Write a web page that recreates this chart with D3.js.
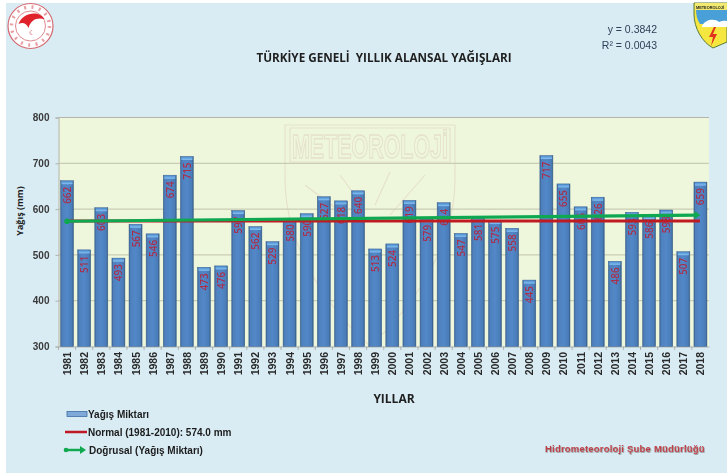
<!DOCTYPE html>
<html><head><meta charset="utf-8">
<script src="https://cdn.jsdelivr.net/npm/d3@7"></script>
<style>html,body{margin:0;padding:0;background:#fff}svg{display:block}</style>
</head><body><svg id="c" width="727" height="473"></svg>
<script>
const years = d3.range(1981, 2019).map(String);
const rainfall = [662,511,603,493,567,546,674,715,473,476,597,562,529,580,590,627,618,640,513,524,619,579,614,547,581,575,558,445,717,655,605,626,486,593,586,598,507,659];
const normalValue = [574, 574];
const trendValues = [573.5, 587];
const yTicks = [300,400,500,600,700,800];
const legendLabels = ["Yağış Miktarı","Normal (1981-2010): 574.0 mm","Doğrusal (Yağış Miktarı)"];
const titleText = "TÜRKİYE GENELİ  YILLIK ALANSAL YAĞIŞLARI";

const svg = d3.select("#c");
const defs = svg.append("defs");
const barG = defs.append("linearGradient").attr("id","bar");
[[0,"#3a6291"],[.12,"#4f80bd"],[.5,"#5288c8"],[.88,"#4a7cb8"],[1,"#34587f"]].forEach(s=>barG.append("stop").attr("offset",s[0]).attr("stop-color",s[1]));
const capG = defs.append("linearGradient").attr("id","cap").attr("x2",0).attr("y2",1);
[[0,"#4f8ed0"],[1,"#86c2f2"]].forEach(s=>capG.append("stop").attr("offset",s[0]).attr("stop-color",s[1]));
defs.append("filter").attr("id","soft").append("feGaussianBlur").attr("stdDeviation",0.3);
const shadow = defs.append("filter").attr("id","sh");
shadow.append("feDropShadow").attr("dx",0.6).attr("dy",0.8).attr("stdDeviation",0.4).attr("flood-color","#888");

svg.append("rect").attr("x",6).attr("y",3).attr("width",721).attr("height",470).attr("fill","#d9ecf4");

const x = d3.scaleBand().domain(years).range([58.5,709]).paddingInner(0.24).paddingOuter(0.12);
const y = d3.scaleLinear().domain([300,800]).range([346.5,117.5]);
const g = svg.append("g").attr("filter","url(#soft)");

g.append("rect").attr("x",58.5).attr("y",117.5).attr("width",650.5).attr("height",229).attr("fill","#eef6dc");

// faint watermark
const wm = g.append("g").attr("fill","none").attr("stroke","#e6e1ca").attr("stroke-width",1.1);
wm.append("path").attr("d","M285 125H455V178C455 250 410 310 370 346C330 310 285 250 285 178Z");
wm.append("path").attr("d","M290 128H450V162H290Z");
const rays=[[345,215,305,185],[362,205,340,175],[375,205,390,172],[390,215,425,175]];
wm.selectAll("line.r").data(rays).join("line").attr("x1",d=>d[0]).attr("y1",d=>d[1]).attr("x2",d=>d[2]).attr("y2",d=>d[3]);
wm.append("text").attr("transform","translate(292,158) scale(1,2.2)").attr("font-family","Liberation Sans").attr("font-size",15).attr("font-weight","bold").attr("textLength",156).attr("lengthAdjust","spacingAndGlyphs").attr("stroke-width",0.6).text("METEOROLOJİ");

// grid and axes
g.append("g").selectAll("line").data(yTicks.slice(1)).join("line")
  .attr("x1",58.5).attr("x2",709).attr("y1",d=>y(d)).attr("y2",d=>y(d)).attr("stroke",d=>d===800?"#b3b5ad":"#c0c3aa").attr("stroke-width",1);

const axL = g.append("g").attr("transform","translate(58.5,0)").call(d3.axisLeft(y).tickValues(yTicks).tickSize(3).tickPadding(6));
const axB = g.append("g").attr("transform","translate(0,346.5)").call(d3.axisBottom(x).tickSize(0).tickPadding(0));
[axL,axB].forEach(a=>{a.selectAll("path").attr("stroke","#aeb2ac");a.selectAll(".tick line").attr("stroke","#aeb2ac");});
axL.selectAll("text").attr("font-family","Liberation Sans").attr("font-size",10).attr("font-weight","bold").attr("fill","#3a3a3a");
axB.selectAll("text").attr("font-family","Liberation Sans").attr("font-size",10.5).attr("font-weight","bold").attr("fill","#2a2a2a")
  .attr("text-anchor","end").attr("dy",null).attr("dominant-baseline","central")
  .attr("transform","translate(0,5.5) rotate(-90)");
// separators between categories
g.append("g").selectAll("line").data(years).join("line")
  .attr("x1",d=>x(d)-x.step()*0.12).attr("x2",d=>x(d)-x.step()*0.12).attr("y1",346.5).attr("y2",350).attr("stroke","#aeb2ac");

// bars
const bars = g.append("g").selectAll("g").data(rainfall).join("g");
bars.append("rect").attr("x",(d,i)=>x(years[i])).attr("width",x.bandwidth()).attr("y",d=>y(d)).attr("height",d=>y(300)-y(d)).attr("fill","url(#bar)").attr("stroke","#3e648f").attr("stroke-width",0.5);
bars.append("rect").attr("x",(d,i)=>x(years[i])+1).attr("width",x.bandwidth()-2).attr("y",d=>y(d)+0.5).attr("height",3).attr("fill","url(#cap)");

// value labels
g.append("g").selectAll("text").data(rainfall).join("text")
  .attr("transform",(d,i)=>`translate(${x(years[i])+x.bandwidth()/2},${y(d)+6}) rotate(-90)`)
  .attr("text-anchor","end").attr("dominant-baseline","central")
  .attr("font-family","Open Sans").attr("font-size",10).attr("font-weight",600).attr("fill","#a92f4c").text(d=>d);

// normal and trend
const line = d3.line().x(d=>d[0]).y(d=>y(d[1]));
const x0 = x("1981")+x.bandwidth()/2;
const xN = x("2018")+x.bandwidth()/2;
g.append("path").attr("d",line([[x0,normalValue[0]],[xN-0.5,normalValue[1]]])).attr("stroke","#bf1a24").attr("stroke-width",3.2).attr("fill","none");
g.append("path").attr("d",line([[x0,trendValues[0]],[xN-3,trendValues[1]]])).attr("stroke","#10a850").attr("stroke-width",3.2).attr("fill","none");
g.append("circle").attr("cx",x0).attr("cy",y(trendValues[0])).attr("r",2.8).attr("fill","#10a850");
const arrow = p=>`M${p[0]} ${p[1]-4}L${p[0]+6} ${p[1]}L${p[0]} ${p[1]+4}Z`;
g.append("path").attr("d",arrow([xN-6,y(trendValues[1])])).attr("fill","#10a850");

// titles
const t = (px,py,s,size,extra={})=>{const e=svg.append("text").attr("x",px).attr("y",py).attr("font-family","Open Sans").attr("font-size",size).attr("font-weight","bold").attr("fill","#1f1f1f").attr("text-anchor","middle").text(s);Object.entries(extra).forEach(([k,v])=>e.attr(k,v));return e;};
t(384,62,titleText,11.7,{"xml:space":"preserve"});
t(394,403,"YILLAR",12);
t(0,0,"Yağış (mm)",9,{transform:"translate(22.5,211) rotate(-90)"});

// legend
const ly=[414,432,450];
const lg = svg.append("g").attr("font-family","Liberation Sans").attr("font-size",10).attr("font-weight","bold").attr("fill","#1c1c1c");
lg.selectAll("text").data(legendLabels).join("text").attr("x",(d,i)=>i==2?89:88).attr("y",(d,i)=>ly[i]+3.5).text(d=>d);
lg.append("rect").attr("x",67).attr("y",ly[0]-2.5).attr("width",20).attr("height",5).attr("fill","#7fa9d8").attr("stroke","#3f6fa5").attr("stroke-width",0.8);
lg.append("line").attr("x1",65).attr("x2",87).attr("y1",ly[1]).attr("y2",ly[1]).attr("stroke","#bf1a24").attr("stroke-width",2.5);
lg.append("line").attr("x1",65).attr("x2",81).attr("y1",ly[2]).attr("y2",ly[2]).attr("stroke","#10a850").attr("stroke-width",2.5);
lg.append("circle").attr("cx",66).attr("cy",ly[2]).attr("r",2.3).attr("fill","#10a850");
lg.append("path").attr("d",arrow([80,ly[2]])).attr("fill","#10a850");

// regression text
const rg = svg.append("g").attr("font-family","Liberation Sans").attr("font-size",10.5).attr("fill","#2f4058");
rg.append("text").attr("x",657).attr("y",33).attr("text-anchor","end").text("y = 0.3842");
rg.append("text").attr("x",657).attr("y",49).attr("text-anchor","end").text("R² = 0.0043");

// footer
svg.append("text").attr("x",545).attr("y",452).attr("font-family","Liberation Sans").attr("font-size",9.5).attr("font-weight","bold").attr("letter-spacing",0.2).attr("fill","#c0404a").attr("filter","url(#sh)").text("Hidrometeoroloji Şube Müdürlüğü");

// left emblem
const em = svg.append("g").attr("transform","translate(30.5,26)").attr("filter","url(#soft)");
em.append("circle").attr("r",22.5).attr("fill","#fff").attr("stroke","#d56a72").attr("stroke-width",1.2);
em.append("circle").attr("r",15).attr("fill","#fff").attr("stroke","#e08a90").attr("stroke-width",1);
em.append("circle").attr("r",19).attr("fill","none").attr("stroke","#e8a0a5").attr("stroke-width",3.5).attr("stroke-dasharray","2 5.5");
em.append("path").attr("d","M-12 -2C-8 -14 9 -16 14 -7C6 -9 0 -6 -2 2C-4 -3 -8 -4 -12 -2Z").attr("fill","#e0202a");
em.append("text").attr("x",1).attr("y",9).attr("font-size",7).attr("fill","#c8323c").attr("text-anchor","middle").attr("font-family","Liberation Sans").text("☾");

// right shield
const sh = svg.append("g").attr("filter","url(#soft)");
sh.append("path").attr("d","M694 3H727V42L713 48C702 42 694 28 694 14Z").attr("fill","#f5e640").attr("stroke","#5a7a3a").attr("stroke-width",1);
sh.append("path").attr("d","M696 9H727V24H700C697 20 696 15 696 9Z").attr("fill","#4aa0d8");
sh.append("path").attr("d","M702 26C706 18 716 19 719 22C723 20 727 21 727 21V27H702Z").attr("fill","#fff");
sh.append("path").attr("d","M714 27L709 37L713 37L711 46L717 34L713 34L716 27Z").attr("fill","#e0301e");
sh.append("rect").attr("x",695).attr("y",3).attr("width",32).attr("height",7).attr("fill","#f2ea70");
svg.append("text").attr("x",696).attr("y",9).attr("font-size",4.2).attr("font-weight","bold").attr("font-family","Liberation Sans").attr("textLength",28).attr("lengthAdjust","spacingAndGlyphs").attr("fill","#222").text("METEOROLOJİ");
</script></body></html>
